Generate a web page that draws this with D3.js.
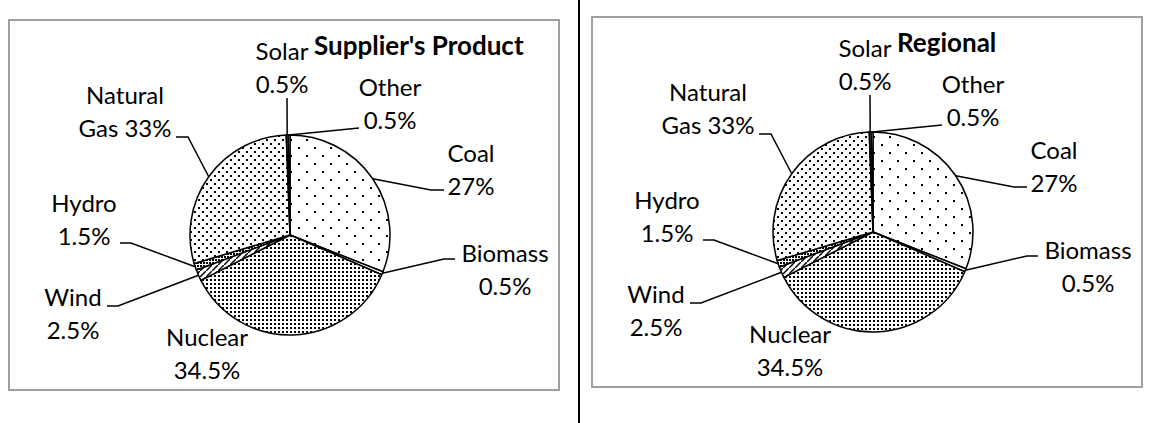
<!DOCTYPE html>
<html>
<head>
<meta charset="utf-8">
<script src="https://cdn.jsdelivr.net/npm/d3@7"></script>
<style>
  body { margin: 0; background: #fff; }
  text { font-family: Lato, "Open Sans", sans-serif; fill: #000; }
</style>
</head>
<body>
<div class="chart"></div>
<script>
// slice order, clockwise from 12 o'clock
const sources = ["Coal", "Biomass", "Nuclear", "Wind", "Hydro", "Natural Gas", "Solar", "Other"];
// share of each slice as drawn (the printed labels differ a little)
const shares = [31, 0.5, 36, 1.8, 1.1, 29, 0.3, 0.3];
// printed label text, first and second line
const labelNames = ["Coal", "Biomass", "Nuclear", "Wind", "Hydro", "Natural", "Solar", "Other"];
const labelValues = ["27%", "0.5%", "34.5%", "2.5%", "1.5%", "Gas 33%", "0.5%", "0.5%"];
const titles = ["Supplier's Product", "Regional"];

const width = 1160, height = 423;
const radius = 100;
const centers = [[290, 235], [873, 232]];
const lineGap = 33;

// label placement, relative to the pie centre: text centre, first baseline, leader bend points
const labelPos = {
  "Coal":        {x: 181,  y: -73,  leader: [[141, -45], [154, -45]]},
  "Biomass":     {x: 215,  y: 27,   leader: [[154, 24], [165, 24]]},
  "Nuclear":     {x: -83,  y: 111,  leader: null},
  "Wind":        {x: -217, y: 71,   leader: [[-172, 71], [-183, 71]]},
  "Hydro":       {x: -206, y: -23,  leader: [[-159, 8], [-170, 8]]},
  "Natural Gas": {x: -165, y: -131, leader: [[-102, -98], [-114, -98]]},
  "Solar":       {x: -8,   y: -175, leader: [[-3, -137]]},
  "Other":       {x: 100,  y: -139, leader: [[69, -107]]}
};

const fills = {
  "Coal": "url(#pat-coal)",
  "Biomass": "#fff",
  "Nuclear": "url(#pat-nuclear)",
  "Wind": "url(#pat-wind)",
  "Hydro": "url(#pat-hydro)",
  "Natural Gas": "url(#pat-gas)",
  "Solar": "#fff",
  "Other": "#fff"
};

const svg = d3.select(".chart").append("svg")
  .attr("width", width)
  .attr("height", height);

const defs = svg.append("defs");

function dotPattern(id, w, h, dots, size) {
  const p = defs.append("pattern")
    .attr("id", id)
    .attr("patternUnits", "userSpaceOnUse")
    .attr("width", w)
    .attr("height", h);
  p.append("rect").attr("width", w).attr("height", h).attr("fill", "#fff");
  dots.forEach(d => {
    p.append("rect")
      .attr("x", d[0]).attr("y", d[1])
      .attr("width", size).attr("height", size)
      .attr("fill", "#000")
      .attr("shape-rendering", "crispEdges");
  });
}
dotPattern("pat-coal", 16, 16, [[0, 0], [8, 8]], 2);
dotPattern("pat-gas", 8, 8, [[0, 0], [4, 4]], 2);
dotPattern("pat-nuclear", 4, 4, [[0, 0]], 2);
dotPattern("pat-hydro", 3, 3, [[0, 0]], 1.5);

const wind = defs.append("pattern")
  .attr("id", "pat-wind")
  .attr("patternUnits", "userSpaceOnUse")
  .attr("width", 6).attr("height", 6);
wind.append("rect").attr("width", 6).attr("height", 6).attr("fill", "#fff");
wind.append("path").attr("d", "M0,6L6,0").attr("stroke", "#000").attr("stroke-width", 1.5);

// divider between the two charts
svg.append("line")
  .attr("x1", 579).attr("x2", 579)
  .attr("y1", 0).attr("y2", height)
  .attr("stroke", "#000")
  .attr("stroke-width", 2);

const pie = d3.pie().sort(null).value(d => d.share);
const arc = d3.arc().innerRadius(0).outerRadius(radius);
const rim = d3.arc().innerRadius(radius).outerRadius(radius);
const leaderLine = d3.line();

const data = sources.map((s, i) => ({
  source: s, share: shares[i], name: labelNames[i], value: labelValues[i]
}));
const arcs = pie(data);

titles.forEach((title, k) => {
  const g = svg.append("g")
    .attr("transform", `translate(${centers[k][0]},${centers[k][1]})`);

  g.append("rect")
    .attr("x", -281).attr("y", -215)
    .attr("width", 550).attr("height", 370)
    .attr("fill", "none")
    .attr("stroke", "#a0a0a0")
    .attr("stroke-width", 2);

  g.selectAll("path.slice")
    .data(arcs)
    .enter()
    .append("path")
    .attr("class", "slice")
    .attr("d", arc)
    .attr("fill", d => fills[d.data.source])
    .attr("stroke", "#000")
    .attr("stroke-width", 1.5)
    .attr("stroke-linejoin", "round");

  g.selectAll("path.leader")
    .data(arcs.filter(d => labelPos[d.data.source].leader))
    .enter()
    .append("path")
    .attr("class", "leader")
    .attr("d", d => leaderLine([rim.centroid(d)].concat(labelPos[d.data.source].leader)))
    .attr("fill", "none")
    .attr("stroke", "#000")
    .attr("stroke-width", 1.5);

  const labels = g.selectAll("g.label")
    .data(arcs)
    .enter()
    .append("g")
    .attr("class", "label");

  labels.append("text")
    .attr("x", d => labelPos[d.data.source].x)
    .attr("y", d => labelPos[d.data.source].y)
    .attr("text-anchor", "middle")
    .attr("font-size", 24)
    .text(d => d.data.name);

  labels.append("text")
    .attr("x", d => labelPos[d.data.source].x)
    .attr("y", d => labelPos[d.data.source].y + lineGap)
    .attr("text-anchor", "middle")
    .attr("font-size", 24)
    .text(d => d.data.value);

  g.append("text")
    .attr("x", 24)
    .attr("y", -180)
    .attr("font-size", 26)
    .attr("font-weight", "bold")
    .text(title);
});
</script>
</body>
</html>
